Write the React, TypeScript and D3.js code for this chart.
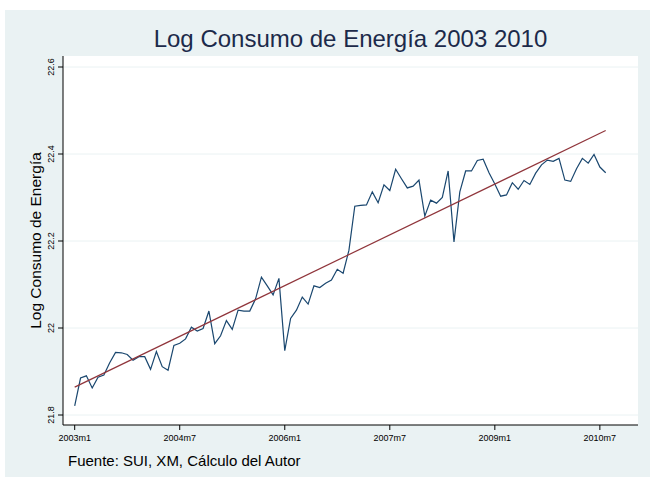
import React from "react";
import * as d3 from "d3";

const months: string[] = [];
const startYear = 2003;
// month labels 2003m1 .. 2010m8
for (let i = 0; i < 92; i++) {
  months.push(`${startYear + Math.floor(i / 12)}m${(i % 12) + 1}`);
}

const logConsumo: number[] = [
  21.821, 21.885, 21.890, 21.862, 21.887, 21.892, 21.920, 21.944, 21.943, 21.939,
  21.926, 21.934, 21.934, 21.905, 21.946, 21.911, 21.903, 21.960, 21.965, 21.975,
  22.002, 21.993, 21.999, 22.039, 21.964, 21.982, 22.017, 21.997, 22.041, 22.039,
  22.039, 22.067, 22.117, 22.097, 22.076, 22.114, 21.948, 22.022, 22.041, 22.071,
  22.055, 22.097, 22.093, 22.103, 22.110, 22.135, 22.126, 22.179, 22.280, 22.282,
  22.283, 22.313, 22.288, 22.329, 22.316, 22.365, 22.343, 22.322, 22.326, 22.340,
  22.257, 22.294, 22.287, 22.300, 22.361, 22.198, 22.313, 22.361, 22.361, 22.385,
  22.388, 22.357, 22.331, 22.303, 22.306, 22.334, 22.319, 22.339, 22.330, 22.356,
  22.375, 22.386, 22.383, 22.390, 22.340, 22.337, 22.366, 22.390, 22.379, 22.399,
  22.370, 22.357,
];

// fitted linear trend, endpoints (first and last month)
const trendMonths: number[] = [0, 91];
const trendValues: number[] = [21.864, 22.454];

const yTicks: number[] = [21.8, 22, 22.2, 22.4, 22.6];
const yTickLabels: string[] = ["21.8", "22", "22.2", "22.4", "22.6"];
const xTickMonths: number[] = [0, 18, 36, 54, 72, 90];
const xTickLabels: string[] = ["2003m1", "2004m7", "2006m1", "2007m7", "2009m1", "2010m7"];

const W = 650;
const H = 477;
const plot = { left: 63, right: 638, top: 56, bottom: 425 };
const FONT = "'Liberation Sans', Arial, sans-serif";

export default function App() {
  const x = d3.scaleLinear().domain([0, 91]).range([74.7, 605.7]);
  const y = d3.scaleLinear().domain([21.8, 22.6]).range([415, 67]);

  const line = d3
    .line<number>()
    .x((_, i) => x(i))
    .y((d) => y(d));

  const trend = d3
    .line<number>()
    .x((_, i) => x(trendMonths[i]))
    .y((d) => y(d));

  return (
    <svg
      width={W}
      height={H}
      style={{ position: "absolute", left: 0, top: 0, display: "block" }}
      fontFamily={FONT}
    >
      <rect x={0} y={0} width={W} height={H} fill="#ffffff" />
      <rect x={5} y={10} width={W - 5} height={H - 10} fill="#eaf2f3" />
      <rect
        x={plot.left}
        y={plot.top}
        width={plot.right - plot.left}
        height={plot.bottom - plot.top}
        fill="#ffffff"
      />
      {/* gridlines */}
      {yTicks.map((t) => (
        <line
          key={"g" + t}
          x1={plot.left}
          x2={plot.right}
          y1={y(t)}
          y2={y(t)}
          stroke="#eaf2f3"
          strokeWidth={1}
        />
      ))}
      {/* title */}
      <text
        x={(plot.left + plot.right) / 2}
        y={47}
        textAnchor="middle"
        fontSize={24}
        fill="#1c2a4a"
      >
        Log Consumo de Energía 2003 2010
      </text>
      {/* y axis */}
      <line x1={plot.left} x2={plot.left} y1={plot.top} y2={plot.bottom} stroke="#000" strokeWidth={1} />
      {yTicks.map((t, i) => (
        <g key={"yt" + t}>
          <line x1={plot.left - 5} x2={plot.left} y1={y(t)} y2={y(t)} stroke="#000" strokeWidth={1} />
          <text
            transform={`translate(${plot.left - 9},${y(t)}) rotate(-90)`}
            textAnchor="middle"
            fontSize={9}
            fill="#000"
          >
            {yTickLabels[i]}
          </text>
        </g>
      ))}
      <text
        transform={`translate(41,${(plot.top + plot.bottom) / 2}) rotate(-90)`}
        textAnchor="middle"
        fontSize={15.5}
        fill="#000"
      >
        Log Consumo de Energía
      </text>
      {/* x axis */}
      <line x1={plot.left} x2={plot.right} y1={plot.bottom} y2={plot.bottom} stroke="#000" strokeWidth={1} />
      {xTickMonths.map((m, i) => (
        <g key={"xt" + m}>
          <line x1={x(m)} x2={x(m)} y1={plot.bottom} y2={plot.bottom + 5} stroke="#000" strokeWidth={1} />
          <text x={x(m)} y={plot.bottom + 16} textAnchor="middle" fontSize={9} fill="#000">
            {xTickLabels[i]}
          </text>
        </g>
      ))}
      {/* series */}
      <path d={line(logConsumo) || ""} fill="none" stroke="#1a476f" strokeWidth={1.2} />
      <path d={trend(trendValues) || ""} fill="none" stroke="#90353b" strokeWidth={1.2} />
      {/* note */}
      <text x={68} y={466} fontSize={15} fill="#000">
        Fuente: SUI, XM, Cálculo del Autor
      </text>
    </svg>
  );
}
